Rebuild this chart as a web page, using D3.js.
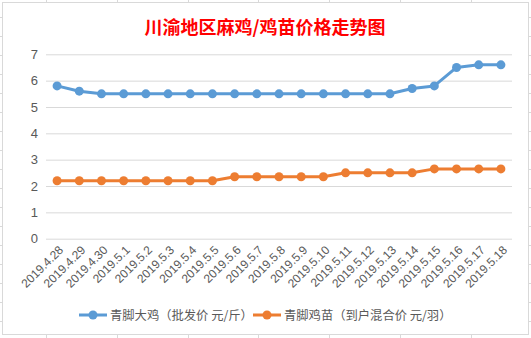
<!DOCTYPE html>
<html><head><meta charset="utf-8">
<script src="https://cdn.jsdelivr.net/npm/d3@7"></script>
<style>html,body{margin:0;padding:0;background:#fff;}svg{display:block;}</style>
</head><body>
<script>
const categories = ["2019.4.28","2019.4.29","2019.4.30","2019.5.1","2019.5.2","2019.5.3","2019.5.4","2019.5.5","2019.5.6","2019.5.7","2019.5.8","2019.5.9","2019.5.10","2019.5.11","2019.5.12","2019.5.13","2019.5.14","2019.5.15","2019.5.16","2019.5.17","2019.5.18"];
const seriesNames = ["青脚大鸡（批发价 元/斤）","青脚鸡苗（到户混合价 元/羽）"];
const bigChicken = [5.8,5.6,5.5,5.5,5.5,5.5,5.5,5.5,5.5,5.5,5.5,5.5,5.5,5.5,5.5,5.5,5.7,5.8,6.5,6.6,6.6];
const chicks = [2.2,2.2,2.2,2.2,2.2,2.2,2.2,2.2,2.35,2.35,2.35,2.35,2.35,2.5,2.5,2.5,2.5,2.65,2.65,2.65,2.65];
const yTicks = [0,1,2,3,4,5,6,7];
const colors = ["#5b9bd5","#ed7d31"];
const title = "川渝地区麻鸡/鸡苗价格走势图";

const W = 531, H = 338;
const svg = d3.select("body").append("svg").attr("width", W).attr("height", H);

// spreadsheet grid outside chart
const grid = svg.append("g").attr("stroke","#d9d9d9").attr("stroke-width",1);
d3.range(17, H, 19).forEach(y => {
  grid.append("line").attr("x1",0).attr("x2",2).attr("y1",y+0.5).attr("y2",y+0.5);
  grid.append("line").attr("x1",529).attr("x2",W).attr("y1",y+0.5).attr("y2",y+0.5);
});
d3.range(46, W, 70.8).forEach(x => {
  const xx = Math.round(x)+0.5;
  grid.append("line").attr("x1",xx).attr("x2",xx).attr("y1",0).attr("y2",2);
  grid.append("line").attr("x1",xx).attr("x2",xx).attr("y1",335).attr("y2",H);
});
// chart frame
svg.append("rect").attr("x",2.5).attr("y",2.5).attr("width",526).attr("height",332)
  .attr("fill","#fff").attr("stroke","#d9d9d9").attr("stroke-width",1);

const x = d3.scaleBand().domain(categories).range([46,512]);
const y = d3.scaleLinear().domain([0,7]).range([238.7,54.3]);
const cx = d => x(d) + x.bandwidth()/2;

// title
svg.append("text").attr("x",265).attr("y",34).attr("text-anchor","middle")
  .attr("font-family","'Noto Sans CJK SC'").attr("font-size",18).attr("font-weight","bold")
  .attr("fill","#ff0000").text(title);

// gridlines + y axis
const yAxis = d3.axisLeft(y).tickValues(yTicks).tickSize(-(512-46)).tickFormat(d3.format("d")).tickPadding(8);
const gy = svg.append("g").attr("transform","translate(46,0)").call(yAxis);
gy.select(".domain").remove();
gy.selectAll(".tick line").attr("stroke","#d9d9d9").attr("stroke-width",1);
gy.selectAll(".tick text").attr("fill","#595959").attr("font-size",13)
  .attr("font-family","'Liberation Sans', Arial, sans-serif");

// x axis labels
const xAxis = d3.axisBottom(x).tickSize(0).tickPadding(0);
const gx = svg.append("g").attr("transform","translate(0,238.7)").call(xAxis);
gx.select(".domain").remove();
gx.selectAll(".tick text")
  .attr("fill","#595959").attr("font-size",12)
  .attr("font-family","'Liberation Sans', Arial, sans-serif")
  .attr("text-anchor","end")
  .attr("dy",null)
  .attr("transform","translate(7,12) rotate(-45)");

// lines
[bigChicken, chicks].forEach((vals, i) => {
  const line = d3.line().x((d,j) => cx(categories[j])).y(d => y(d));
  svg.append("path").datum(vals).attr("d", line).attr("fill","none")
    .attr("stroke", colors[i]).attr("stroke-width",3).attr("stroke-linejoin","round");
  svg.append("g").selectAll("circle").data(vals).join("circle")
    .attr("cx",(d,j)=>cx(categories[j])).attr("cy",d=>y(d)).attr("r",4.5)
    .attr("fill",colors[i]);
});

// legend
const legendX = [79, 253];
const legY = 315;
seriesNames.forEach((name,i) => {
  const g = svg.append("g");
  g.append("line").attr("x1",legendX[i]).attr("x2",legendX[i]+28).attr("y1",legY).attr("y2",legY)
    .attr("stroke",colors[i]).attr("stroke-width",3);
  g.append("circle").attr("cx",legendX[i]+14).attr("cy",legY).attr("r",4.5).attr("fill",colors[i]);
  g.append("text").attr("x",legendX[i]+31).attr("y",legY+4.5).attr("font-size",12.3)
    .attr("font-family","'Noto Sans CJK SC'").attr("fill","#595959").text(name);
});
</script>
</body></html>
